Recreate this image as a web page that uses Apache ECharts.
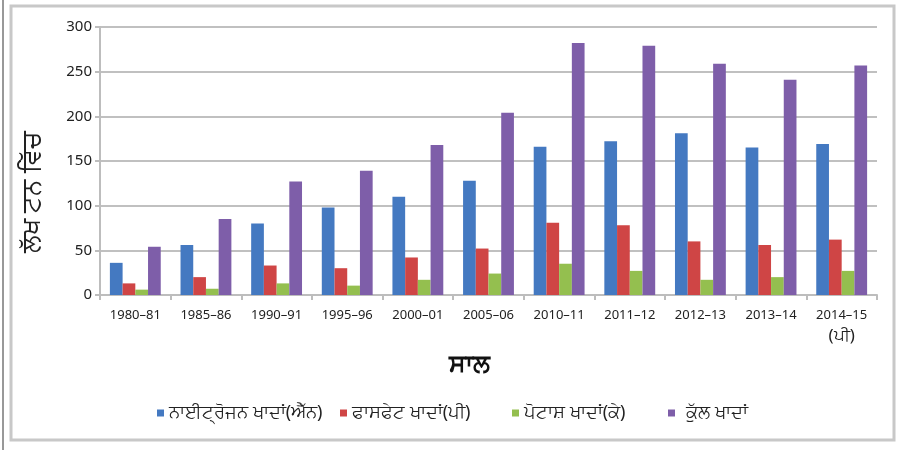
<!DOCTYPE html>
<html>
<head>
<meta charset="utf-8">
<script src="https://cdn.jsdelivr.net/npm/echarts@6/dist/echarts.min.js"></script>
<style>
html,body{margin:0;padding:0;background:#fff;}
#c{width:898px;height:450px;}
</style>
</head>
<body>
<div id="c"></div>
<script>
const categories = ['1980–81','1985–86','1990–91','1995–96','2000–01','2005–06','2010–11','2011–12','2012–13','2013–14','2014–15\n(ਪੀ)'];
const nitrogen = [36, 56, 80, 98, 110, 128, 166, 172, 181, 165, 169];
const phosphate = [13, 20, 33, 30, 42, 52, 81, 78, 60, 56, 62];
const potash = [6, 7, 13, 10.5, 17, 24, 35, 27, 17, 20, 27];
const total = [54, 85, 127, 139, 168, 204, 282, 279, 259, 241, 257];
const seriesNames = ['ਨਾਈਟ੍ਰੋਜਨ ਖਾਦਾਂ(ਐੱਨ)','ਫਾਸਫੇਟ ਖਾਦਾਂ(ਪੀ)','ਪੋਟਾਸ਼ ਖਾਦਾਂ(ਕੇ)','ਕੁੱਲ ਖਾਦਾਂ'];
const yTicks = {min:0, max:300, interval:50};
const colors = ['#4479c1','#cf4545','#94bf4f','#7e5ea9'];
const FONT = '"Noto Sans", "DejaVu Sans", sans-serif';
const legendLefts = [152, 335, 507, 663];

const chart = echarts.init(document.getElementById('c'), null, {renderer:'canvas'});
const seriesData = [nitrogen, phosphate, potash, total];
chart.setOption({
  animation:false,
  textStyle:{fontFamily:FONT},
  color: colors,
  grid:{left:100, right:21, top:27, bottom:155, containLabel:false},
  legend: seriesNames.map((n,i)=>({
    data:[n], left:legendLefts[i], top:399,
    icon:'rect', itemWidth:7, itemHeight:7, itemGap:0,
    textStyle:{fontSize:18, color:'#222', fontFamily:FONT, padding:[0,0,0,i===3?6:0]}
  })),
  xAxis:{
    type:'category', data:categories,
    name:'ਸਾਲ', nameLocation:'middle', nameGap:54,
    nameTextStyle:{fontSize:25, fontWeight:'bold', color:'#111', fontFamily:FONT, padding:[0,38,0,0]},
    axisLine:{show:true, lineStyle:{color:'#bdbdbd', width:2}},
    axisTick:{show:true, length:5, lineStyle:{color:'#bdbdbd', width:2}},
    axisLabel:{fontSize:13, color:'#222', margin:10, lineHeight:20, interval:0, fontFamily:FONT,
      formatter: v => v.replace('(ਪੀ)', '{g|(ਪੀ)}'),
      rich:{g:{fontSize:17, color:'#222', fontFamily:FONT, lineHeight:22}}}
  },
  yAxis:{
    type:'value', min:yTicks.min, max:yTicks.max, interval:yTicks.interval,
    axisLine:{show:true, lineStyle:{color:'#bdbdbd', width:2}},
    axisTick:{show:true, length:5, lineStyle:{color:'#bdbdbd', width:2}},
    splitLine:{show:true, lineStyle:{color:'#c0c0c0', width:2}},
    axisLabel:{fontSize:15, color:'#222', margin:8, fontFamily:FONT}
  },
  series: seriesNames.map((n,i)=>({
    name:n, type:'bar', data:seriesData[i],
    barGap:'0%', barCategoryGap:'28%',
    itemStyle:{color:colors[i]}
  })),
  graphic:[
    {type:'line', shape:{x1:3,y1:0,x2:3,y2:450}, style:{stroke:'#333', lineWidth:1}, silent:true},
    {type:'rect', shape:{x:11,y:6,width:883,height:434}, style:{fill:'none', stroke:'#c8c8c8', lineWidth:3}, silent:true},
    {type:'text', x:33, y:192, rotation:Math.PI/2,
     style:{text:'ਲੱਖ ਟਨ ਵਿੱਚ', fontSize:26, fill:'#222', textAlign:'center', textVerticalAlign:'middle', fontFamily:FONT}}
  ]
});
</script>
</body>
</html>
